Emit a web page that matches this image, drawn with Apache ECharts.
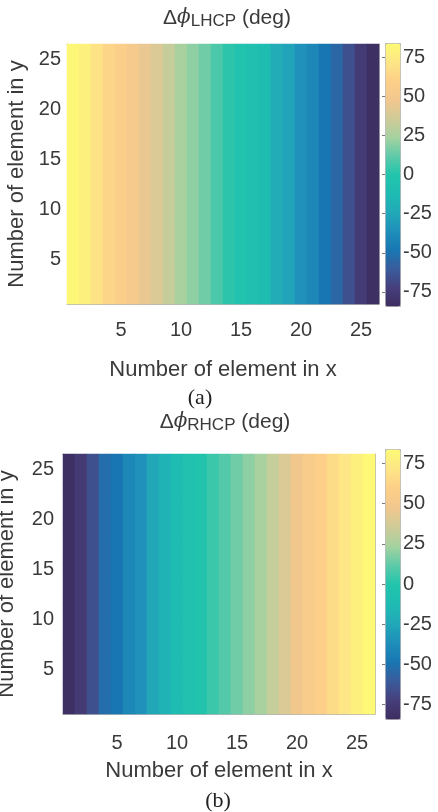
<!DOCTYPE html>
<html>
<head>
<meta charset="utf-8">
<script src="https://cdn.jsdelivr.net/npm/echarts@6/dist/echarts.min.js"></script>
<style>html,body{margin:0;padding:0;background:#fff;}#c{width:438px;height:812px;}</style>
</head>
<body>
<div id="c"></div>
<script>
// ---- data ----
const xCats = ['1','2','3','4','5','6','7','8','9','10','11','12','13','14','15','16','17','18','19','20','21','22','23','24','25','26'];
const yCats = ['1','2','3','4','5','6','7','8','9','10','11','12','13','14','15','16','17','18','19','20','21','22','23','24','25','26'];
const tickLabels = ['5','10','15','20','25'];
const colorbarTicks = [-75, -50, -25, 0, 25, 50, 75];
const lhcpByColumn = [82, 78, 70, 63, 58, 52, 45, 40, 33, 25, 20, 15, 8, 2, -3, -8, -12, -22, -27, -35, -40, -48, -55, -65, -75, -82];
const rhcpByColumn = [-82, -75, -65, -52, -48, -40, -35, -25, -18, -12, -6, -2, 5, 10, 15, 20, 25, 33, 40, 48, 55, 60, 67, 72, 78, 83];
const cMin = -84, cMax = 84;
const palette = ['#3d2d5f','#463f7c','#3a5c9c','#1877b2','#1f8fba','#21a9b8','#1fbcb2','#22c4ac','#5ecaa8','#a6d2a0','#cfcb98','#f2c78e','#fdcf88','#fde686','#fdfa74'];

function build(cols) {
  const out = [];
  for (let j = 0; j < yCats.length; j++)
    for (let i = 0; i < xCats.length; i++) out.push([i, j, cols[i]]);
  return out;
}

const txt = '#3a3a3a';
const ff = "'Liberation Sans', Arial, sans-serif";
const boxLine = { show: true, lineStyle: { color: '#b5b5b5', width: 1 } };
const showTick = (idx, val) => tickLabels.indexOf(val) >= 0;

function mainX(grid, margin, gap) {
  return [
    { gridIndex: grid, type: 'category', data: xCats, position: 'bottom', axisLine: boxLine, axisTick: { show: false },
      axisLabel: { interval: showTick, color: txt, fontSize: 20, fontFamily: ff, margin: margin },
      name: 'Number of element in x', nameLocation: 'middle', nameGap: gap,
      nameTextStyle: { color: txt, fontSize: 22, fontFamily: ff }, splitLine: { show: false }, splitArea: { show: false } },
    { gridIndex: grid, type: 'category', data: xCats, position: 'top', axisLine: boxLine, axisTick: { show: false },
      axisLabel: { show: false }, splitLine: { show: false }, splitArea: { show: false } }
  ];
}
function mainY(grid, margin, gap) {
  return [
    { gridIndex: grid, type: 'category', data: yCats, position: 'left', axisLine: boxLine, axisTick: { show: false },
      axisLabel: { interval: showTick, color: txt, fontSize: 20, fontFamily: ff, margin: margin },
      name: 'Number of element in y', nameLocation: 'middle', nameGap: gap,
      nameTextStyle: { color: txt, fontSize: 22, fontFamily: ff }, splitLine: { show: false }, splitArea: { show: false } },
    { gridIndex: grid, type: 'category', data: yCats, position: 'right', axisLine: boxLine, axisTick: { show: false },
      axisLabel: { show: false }, splitLine: { show: false }, splitArea: { show: false } }
  ];
}
function cbX(grid) {
  return { gridIndex: grid, type: 'value', show: false, min: 0, max: 1 };
}
function cbY(grid) {
  return { gridIndex: grid, type: 'value', position: 'right', min: cMin, max: cMax,
    axisLine: { show: false }, splitLine: { show: false },
    axisTick: { show: true, inside: true, length: 3, customValues: colorbarTicks, lineStyle: { color: '#777' } },
    axisLabel: { customValues: colorbarTicks, color: txt, fontSize: 20, fontFamily: ff, margin: 3 } };
}
function titleRich(sub) {
  return {
    text: '{d|Δ}{p|ϕ}{s|' + sub + '}{d| (deg)}',
    textStyle: {
      fontWeight: 'normal',
      rich: {
        d: { fontSize: 21, fontFamily: ff, fontWeight: 'normal', color: txt, lineHeight: 22, verticalAlign: 'top' },
        p: { fontSize: 20, fontFamily: 'DejaVu Serif', fontStyle: 'italic', fontWeight: 'normal', color: txt, lineHeight: 22, verticalAlign: 'top' },
        s: { fontSize: 17, fontFamily: ff, fontWeight: 'normal', color: txt, lineHeight: 18, padding: [14, 0, 0, 0], verticalAlign: 'bottom' }
      }
    }
  };
}

const chart = echarts.init(document.getElementById('c'), null, { renderer: 'canvas' });
const t0 = titleRich('LHCP'); t0.left = 222; t0.top = 3; t0.textAlign = 'center';
const t1 = titleRich('RHCP'); t1.left = 220; t1.top = 407; t1.textAlign = 'center';
const hmStyle = { borderWidth: 0 };
chart.setOption({
  animation: false,
  backgroundColor: '#ffffff',
  title: [
    t0, t1,
    { text: '(a)', left: 195, top: 382, textAlign: 'center', textStyle: { fontFamily: "'Liberation Serif', 'Times New Roman', serif", fontSize: 22, fontWeight: 'normal', color: '#222' } },
    { text: '(b)', left: 213, top: 785, textAlign: 'center', textStyle: { fontFamily: "'Liberation Serif', 'Times New Roman', serif", fontSize: 22, fontWeight: 'normal', color: '#222' } }
  ],
  grid: [
    { left: 67, top: 44, width: 312, height: 260, outerBoundsMode: 'none', containLabel: false },
    { left: 63, top: 454, width: 312, height: 260, outerBoundsMode: 'none', containLabel: false },
    { left: 385, top: 43, width: 15, height: 263, outerBoundsMode: 'none', containLabel: false },
    { left: 385, top: 449, width: 15, height: 270, outerBoundsMode: 'none', containLabel: false }
  ],
  xAxis: [...mainX(0, 16, 55), ...mainX(1, 19, 46), cbX(2), cbX(3)],
  yAxis: [...mainY(0, 6, 38), ...mainY(1, 9, 45), cbY(2), cbY(3)],
  visualMap: [
    { type: 'continuous', seriesIndex: 0, min: cMin, max: cMax, left: 385, top: 43, itemWidth: 15, itemHeight: 263,
      padding: 0, calculable: false, hoverLink: false, text: null, showLabel: false,
      borderColor: '#b5b5b5', borderWidth: 1, inRange: { color: palette } },
    { type: 'continuous', seriesIndex: 1, min: cMin, max: cMax, left: 385, top: 449, itemWidth: 15, itemHeight: 270,
      padding: 0, calculable: false, hoverLink: false, text: null, showLabel: false,
      borderColor: '#b5b5b5', borderWidth: 1, inRange: { color: palette } }
  ],
  series: [
    { type: 'heatmap', xAxisIndex: 0, yAxisIndex: 0, data: build(lhcpByColumn), progressive: 0, itemStyle: hmStyle, emphasis: { disabled: true } },
    { type: 'heatmap', xAxisIndex: 2, yAxisIndex: 2, data: build(rhcpByColumn), progressive: 0, itemStyle: hmStyle, emphasis: { disabled: true } }
  ]
});
</script>
</body>
</html>
